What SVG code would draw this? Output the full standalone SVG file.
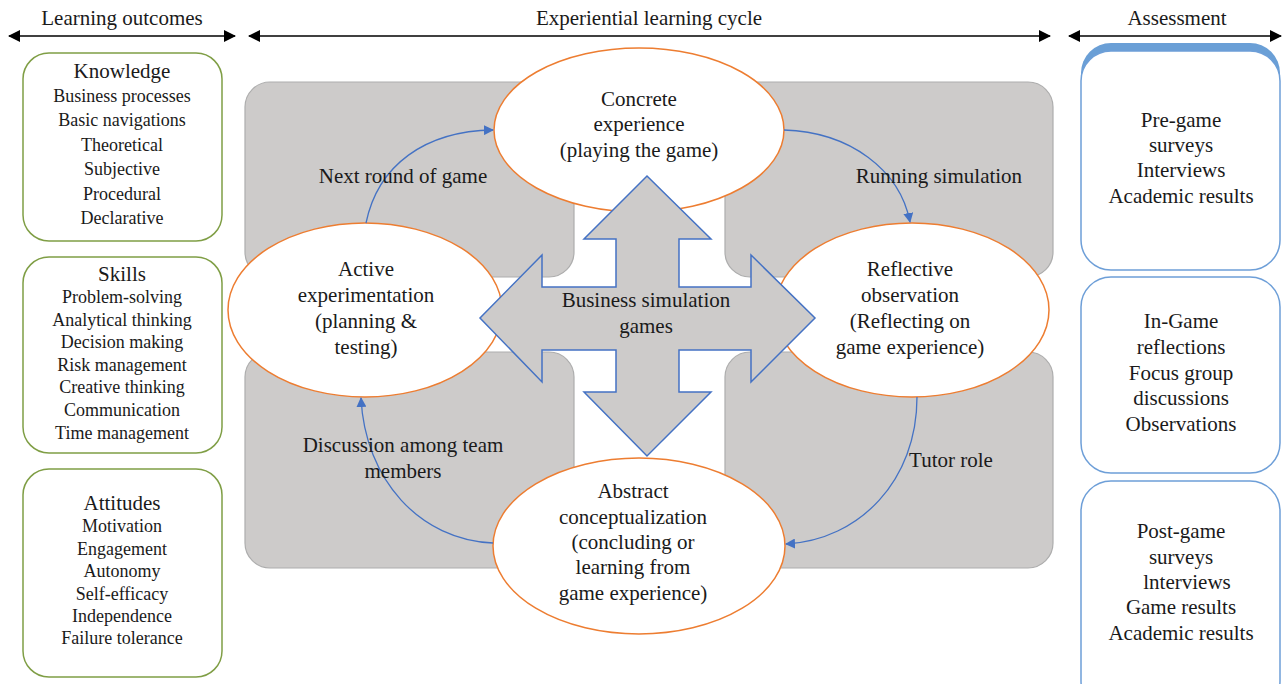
<svg xmlns="http://www.w3.org/2000/svg" width="1282" height="684" viewBox="0 0 1282 684">
<defs>
<marker id="blk" viewBox="0 0 12 12" refX="11" refY="6" markerWidth="12" markerHeight="12" markerUnits="userSpaceOnUse" orient="auto-start-reverse"><path d="M0,0 L12,6 L0,12 Z" fill="#000"/></marker>
<marker id="blu" viewBox="0 0 10 10" refX="9" refY="5" markerWidth="10" markerHeight="10" markerUnits="userSpaceOnUse" orient="auto"><path d="M0,0 L10,5 L0,10 Z" fill="#4472c4"/></marker>
</defs>
<style>
text{font-family:"Liberation Serif","Times New Roman",serif;fill:#1a1a1a;text-anchor:middle}
.t21{font-size:21px}
.t18{font-size:18px}
.lo{fill:#fff;stroke:#7f9e45;stroke-width:1.5}
.as{fill:#fff;stroke:#6e9fd8;stroke-width:1.5}
.gr{fill:#cdcbca;stroke:#adadad;stroke-width:1.2}
.el{fill:#fff;stroke:#ed7d31;stroke-width:1.5}
.cn{fill:none;stroke:#4472c4;stroke-width:1.3}
.hd{stroke:#000;stroke-width:1.5;fill:none}
</style>
<g id="headers">
<text class="t21" x="122" y="25">Learning outcomes</text>
<line class="hd" x1="9" y1="36" x2="235" y2="36" marker-start="url(#blk)" marker-end="url(#blk)"/>
<text class="t21" x="649" y="25">Experiential learning cycle</text>
<line class="hd" x1="249" y1="36" x2="1050" y2="36" marker-start="url(#blk)" marker-end="url(#blk)"/>
<text class="t21" x="1177" y="25">Assessment</text>
<line class="hd" x1="1069" y1="36" x2="1281" y2="36" marker-start="url(#blk)" marker-end="url(#blk)"/>
</g>
<g id="knowledge">
<rect class="lo" x="23" y="53" width="199" height="188" rx="26"/>
<text class="t21" x="122" y="78">Knowledge</text>
<text class="t18" x="122" y="102">Business processes</text>
<text class="t18" x="122" y="126">Basic navigations</text>
<text class="t18" x="122" y="151">Theoretical</text>
<text class="t18" x="122" y="175">Subjective</text>
<text class="t18" x="122" y="200">Procedural</text>
<text class="t18" x="122" y="224">Declarative</text>
</g>
<g id="skills">
<rect class="lo" x="23" y="257" width="199" height="196" rx="26"/>
<text class="t21" x="122" y="281">Skills</text>
<text class="t18" x="122" y="303">Problem-solving</text>
<text class="t18" x="122" y="326">Analytical thinking</text>
<text class="t18" x="122" y="348">Decision making</text>
<text class="t18" x="122" y="371">Risk management</text>
<text class="t18" x="122" y="393">Creative thinking</text>
<text class="t18" x="122" y="416">Communication</text>
<text class="t18" x="122" y="439">Time management</text>
</g>
<g id="attitudes">
<rect class="lo" x="23" y="469" width="199" height="208" rx="26"/>
<text class="t21" x="122" y="510">Attitudes</text>
<text class="t18" x="122" y="532">Motivation</text>
<text class="t18" x="122" y="555">Engagement</text>
<text class="t18" x="122" y="577">Autonomy</text>
<text class="t18" x="122" y="600">Self-efficacy</text>
<text class="t18" x="122" y="622">Independence</text>
<text class="t18" x="122" y="644">Failure tolerance</text>
</g>
<g id="pre-game">
<rect x="1081" y="43" width="199" height="220" rx="30" fill="#6a9fd6"/>
<rect class="as" x="1081" y="51" width="199" height="219" rx="30"/>
<text class="t21" x="1181" y="127">Pre-game</text>
<text class="t21" x="1181" y="152">surveys</text>
<text class="t21" x="1181" y="177">Interviews</text>
<text class="t21" x="1181" y="203">Academic results</text>
</g>
<g id="in-game">
<rect class="as" x="1081" y="277" width="199" height="196" rx="30"/>
<text class="t21" x="1181" y="328">In-Game</text>
<text class="t21" x="1181" y="354">reflections</text>
<text class="t21" x="1181" y="380">Focus group</text>
<text class="t21" x="1181" y="405">discussions</text>
<text class="t21" x="1181" y="431">Observations</text>
</g>
<g id="post-game">
<rect class="as" x="1081" y="481" width="199" height="230" rx="30"/>
<text class="t21" x="1181" y="538">Post-game</text>
<text class="t21" x="1181" y="564">surveys</text>
<text class="t21" x="1187" y="589">lnterviews</text>
<text class="t21" x="1181" y="614">Game results</text>
<text class="t21" x="1181" y="640">Academic results</text>
</g>
<g id="panels">
<rect class="gr" x="245" y="82" width="329" height="195" rx="25"/>
<rect class="gr" x="725" y="82" width="328" height="195" rx="25"/>
<rect class="gr" x="245" y="352" width="329" height="216" rx="25"/>
<rect class="gr" x="725" y="352" width="328" height="216" rx="25"/>
</g>
<g id="concrete">
<ellipse class="el" cx="639" cy="130" rx="145" ry="82"/>
<text class="t21" x="639" y="106">Concrete</text>
<text class="t21" x="639" y="131">experience</text>
<text class="t21" x="639" y="157">(playing the game)</text>
</g>
<g id="active">
<ellipse class="el" cx="365" cy="310" rx="137" ry="87"/>
<text class="t21" x="366" y="276">Active</text>
<text class="t21" x="366" y="302">experimentation</text>
<text class="t21" x="366" y="328">(planning &amp;</text>
<text class="t21" x="366" y="354">testing)</text>
</g>
<g id="reflective">
<ellipse class="el" cx="912" cy="310" rx="137" ry="87"/>
<text class="t21" x="910" y="276">Reflective</text>
<text class="t21" x="910" y="302">observation</text>
<text class="t21" x="910" y="328">(Reflecting on</text>
<text class="t21" x="910" y="354">game experience)</text>
</g>
<g id="abstract">
<ellipse class="el" cx="639" cy="546" rx="146" ry="88"/>
<text class="t21" x="633" y="498">Abstract</text>
<text class="t21" x="633" y="524">conceptualization</text>
<text class="t21" x="633" y="549">(concluding or</text>
<text class="t21" x="633" y="574">learning from</text>
<text class="t21" x="633" y="600">game experience)</text>
</g>
<g id="connectors">
<path class="cn" d="M366,223 C378,165 425,131 493,130" marker-end="url(#blu)"/>
<path class="cn" d="M784,130 C850,132 900,170 910,222" marker-end="url(#blu)"/>
<path class="cn" d="M917,397 C917,480 860,540 786,544" marker-end="url(#blu)"/>
<path class="cn" d="M493,543 C420,540 365,480 361,398" marker-end="url(#blu)"/>
</g>
<g id="labels">
<text class="t21" x="403" y="183">Next round of game</text>
<text class="t21" x="939" y="183">Running simulation</text>
<text class="t21" x="403" y="452">Discussion among team</text>
<text class="t21" x="403" y="478">members</text>
<text class="t21" x="951" y="467">Tutor role</text>
</g>
<g id="business-simulation-games">
<polygon points="647,176 711,239 679,239 679,287 751,287 751,255 815,318 751,382 751,350 679,350 679,392 711,392 647,456 584,392 616,392 616,350 542,350 542,382 480,318 542,255 542,287 616,287 616,239 584,239" fill="#cdcbca" stroke="#4472c4" stroke-width="1.5" stroke-linejoin="miter"/>
<text class="t21" x="646" y="307">Business simulation</text>
<text class="t21" x="646" y="333">games</text>
</g>
</svg>
